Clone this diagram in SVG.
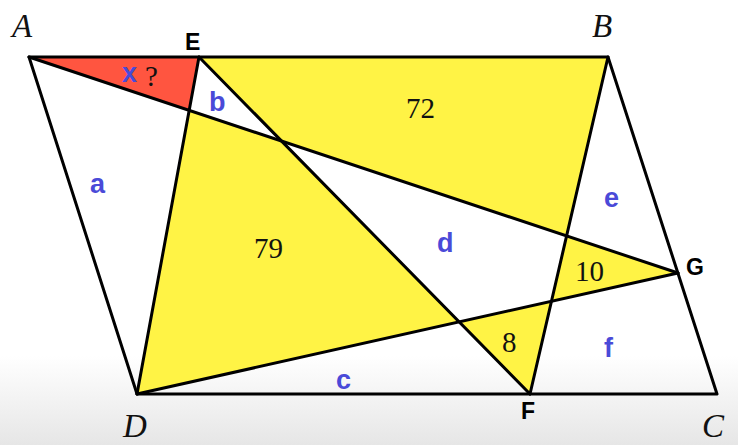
<svg xmlns="http://www.w3.org/2000/svg" width="738" height="445" viewBox="0 0 738 445">
<defs>
<linearGradient id="bg" x1="0" y1="0" x2="0" y2="1">
<stop offset="0" stop-color="#ffffff"/>
<stop offset="0.8" stop-color="#ffffff"/>
<stop offset="1" stop-color="#e6e6e6"/>
</linearGradient>
<style>
.ln{stroke:#000;stroke-width:3;fill:none;stroke-linejoin:round;stroke-linecap:round}
.yl{fill:#FFF345}
.rd{fill:#FF5540}
.vx{font-family:"Liberation Serif",serif;font-style:italic;font-size:33px;fill:#111}
.pt{font-family:"Liberation Sans",Arial,sans-serif;font-weight:bold;font-size:23px;fill:#000}
.lb{font-family:"Liberation Sans",Arial,sans-serif;font-weight:bold;font-size:27px;fill:#4A4AD8}
.nm{font-family:"Liberation Serif",serif;font-size:29px;fill:#111}
</style>
</defs>
<rect width="738" height="445" fill="url(#bg)"/>
<g id="regions">
<polygon id="red-x" class="rd" points="29,57 199,57 189.2,110.3"/>
<polygon id="yellow-72" class="yl" points="199,57 608,57 566.6,235.9 281.6,141.1"/>
<polygon id="yellow-79" class="yl" points="189.2,110.3 281.6,141.1 459.2,321.9 137,394"/>
<polygon id="yellow-10" class="yl" points="566.6,235.9 678,273 551.5,301.3"/>
<polygon id="yellow-8" class="yl" points="459.2,321.9 551.5,301.3 530,394"/>
</g>
<g id="connectors">
<polygon class="ln" points="29,57 608,57 717,394 137,394"/>
<line class="ln" x1="29" y1="57" x2="678" y2="273"/>
<line class="ln" x1="199" y1="57" x2="137" y2="394"/>
<line class="ln" x1="199" y1="57" x2="530" y2="394"/>
<line class="ln" x1="608" y1="57" x2="530" y2="394"/>
<line class="ln" x1="137" y1="394" x2="678" y2="273"/>
</g>
<g id="node-A"><text class="vx" x="12" y="37">A</text></g>
<g id="node-B"><text class="vx" x="592" y="37">B</text></g>
<g id="node-C"><text class="vx" x="702" y="437">C</text></g>
<g id="node-D"><text class="vx" x="123" y="437">D</text></g>
<g id="node-E"><text class="pt" x="185" y="50">E</text></g>
<g id="node-F"><text class="pt" x="521" y="419">F</text></g>
<g id="node-G"><text class="pt" x="686" y="275">G</text></g>
<g id="labels">
<text class="lb" x="122" y="82">x</text>
<text class="nm" x="145" y="86">?</text>
<text class="lb" x="209" y="111">b</text>
<text class="lb" x="90" y="193">a</text>
<text class="lb" x="437" y="252">d</text>
<text class="lb" x="604" y="207">e</text>
<text class="lb" x="604" y="357">f</text>
<text class="lb" x="336" y="389">c</text>
<text class="nm" x="406" y="118">72</text>
<text class="nm" x="254" y="258">79</text>
<text class="nm" x="575" y="281">10</text>
<text class="nm" x="502" y="352">8</text>
</g>
</svg>
